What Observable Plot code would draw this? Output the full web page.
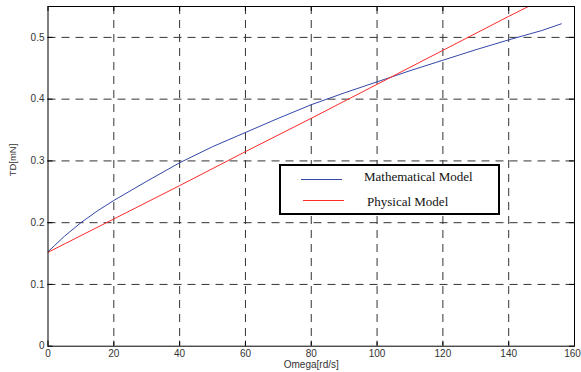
<!DOCTYPE html>
<html>
<head>
<meta charset="utf-8">
<script src="https://cdn.jsdelivr.net/npm/d3@7"></script>
<script src="https://cdn.jsdelivr.net/npm/@observablehq/plot@0.6"></script>
<style>
  html, body { margin: 0; padding: 0; background: #fff; }
  #wrap { position: relative; width: 581px; height: 372px; overflow: hidden; }
  #wrap svg { position: absolute; left: 0; top: 0; }
  .legend { position: absolute; left: 279px; top: 164px; width: 221px; height: 51px; box-sizing: border-box;
            border: 2px solid #000; background: #fff; font-family: "Liberation Serif", "Times New Roman", serif; font-size: 13px; }
  .legend .sw { position: absolute; height: 1px; width: 41px; }
  .legend .lab { position: absolute; line-height: 13px; white-space: nowrap; color: #111; }
</style>
</head>
<body>
<div id="wrap"></div>
<script>
// Data
const omegaMath = [0, 2, 5, 10, 15, 20, 30, 40, 50, 60, 70, 80, 90, 100, 110, 120, 130, 140, 150, 156];
const torqueMath = [0.153, 0.163, 0.178, 0.200, 0.219, 0.236, 0.267, 0.297, 0.323, 0.346, 0.369, 0.391, 0.410, 0.428, 0.446, 0.463, 0.480, 0.496, 0.511, 0.522];
const omegaPhys = [0, 20, 40, 60, 80, 100, 120, 140, 156];
const torquePhys = [0.152, 0.206, 0.260, 0.315, 0.369, 0.424, 0.479, 0.534, 0.577];
const xTicks = [0, 20, 40, 60, 80, 100, 120, 140, 160];
const yTicks = [0, 0.1, 0.2, 0.3, 0.4, 0.5];
const seriesNames = ["Mathematical Model", "Physical Model"];
const seriesColors = ["#3347a8", "#ff2a2a"];
const xLabel = "Omega[rd/s]";
const yLabel = "TD[mN]";

const mathData = omegaMath.map((x, i) => ({x, y: torqueMath[i]}));
const physData = omegaPhys.map((x, i) => ({x, y: torquePhys[i]}));

const W = 581, H = 372;
const mL = 47.5, mR = 7, mT = 6, mB = 26.3;
const innerW = W - mL - mR, innerH = H - mT - mB;
const tickLen = 5;
const gridStyle = {stroke: "#333", strokeOpacity: 1, strokeWidth: 1, strokeDasharray: "8,6"};
const font = "'Liberation Sans', Arial, Helvetica, sans-serif";
const xAxisStyle = {tickSize: 0, tickPadding: 4, fontSize: 10, fill: "#333", label: null, tickFormat: d => String(d)};

const chart = Plot.plot({
  width: W, height: H,
  marginLeft: mL, marginRight: mR, marginTop: mT, marginBottom: mB,
  style: {fontFamily: font, background: "transparent"},
  x: {domain: [0, 160]},
  y: {domain: [0, 0.55]},
  marks: [
    Plot.gridX(xTicks.slice(1, -1), gridStyle),
    Plot.gridY(yTicks.slice(1), gridStyle),
    Plot.line(mathData, {x: "x", y: "y", stroke: seriesColors[0], strokeWidth: 1, clip: true}),
    Plot.line(physData, {x: "x", y: "y", stroke: seriesColors[1], strokeWidth: 1, clip: true}),
    Plot.frame({stroke: "#000", strokeWidth: 1}),
    // inward ticks on all four sides
    Plot.ruleX(xTicks, {x: d => d, insetTop: innerH - tickLen, stroke: "#000"}),
    Plot.ruleX(xTicks, {x: d => d, insetBottom: innerH - tickLen, stroke: "#000"}),
    Plot.ruleY(yTicks, {y: d => d, insetRight: innerW - tickLen, stroke: "#000"}),
    Plot.ruleY(yTicks, {y: d => d, insetLeft: innerW - tickLen, stroke: "#000"}),
    Plot.axisX(xTicks.slice(0, -1), xAxisStyle),
    Plot.axisX(xTicks.slice(-1), {...xAxisStyle, dx: -2}),
    Plot.axisY(yTicks, {tickSize: 0, tickPadding: 3.5, fontSize: 10, fill: "#333", label: null, tickFormat: d => String(d)}),
    Plot.text([xLabel], {frameAnchor: "bottom", dy: 19, text: d => d, fontSize: 10, fill: "#333", lineAnchor: "middle"}),
    Plot.text([yLabel], {frameAnchor: "left", dx: -35, text: d => d, fontSize: 9.5, fill: "#333", rotate: -90, lineAnchor: "middle"})
  ]
});

const wrap = document.getElementById("wrap");
wrap.appendChild(chart);

// Legend (HTML overlay), positions relative to legend box
const legend = document.createElement("div");
legend.className = "legend";
const items = [
  {sw: {left: 20, top: 12.5}, lab: {left: 83, top: 4}},
  {sw: {left: 22, top: 34}, lab: {left: 86, top: 28.5}}
];
items.forEach((it, i) => {
  const sw = document.createElement("div");
  sw.className = "sw";
  sw.style.left = it.sw.left + "px";
  sw.style.top = it.sw.top + "px";
  sw.style.background = seriesColors[i];
  legend.appendChild(sw);
  const lab = document.createElement("div");
  lab.className = "lab";
  lab.style.left = it.lab.left + "px";
  lab.style.top = it.lab.top + "px";
  lab.textContent = seriesNames[i];
  legend.appendChild(lab);
});
wrap.appendChild(legend);
</script>
</body>
</html>
